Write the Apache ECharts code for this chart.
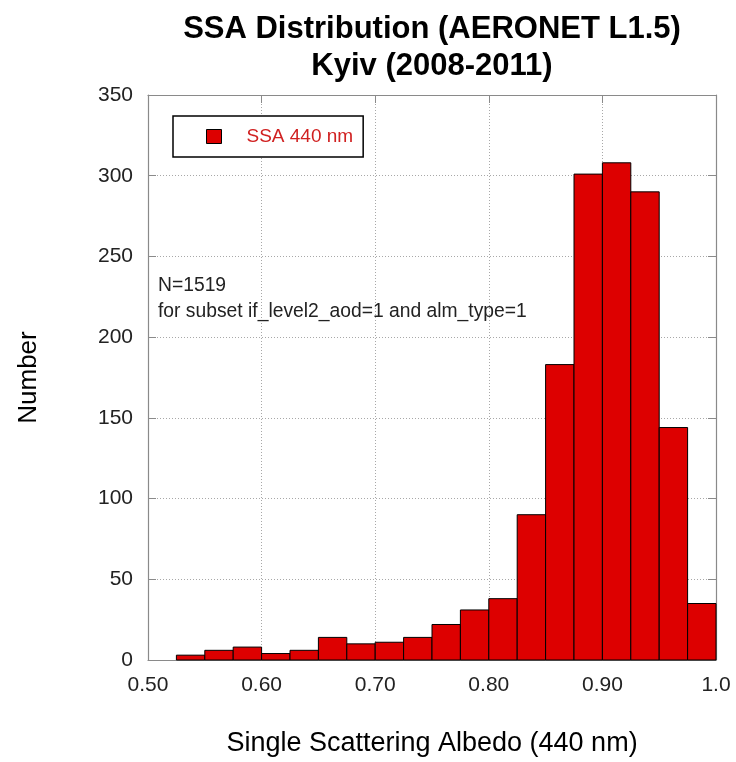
<!DOCTYPE html>
<html>
<head>
<meta charset="utf-8">
<script src="https://cdn.jsdelivr.net/npm/echarts@6/dist/echarts.min.js"></script>
<style>
  html, body { margin: 0; padding: 0; background: #ffffff; overflow: hidden; }
  #chart { width: 736px; height: 762px; }
</style>
</head>
<body>
<div id="chart"></div>
<script>
// ---- data ----
const binEdges = [0.525, 0.55, 0.575, 0.60, 0.625, 0.65, 0.675, 0.70, 0.725, 0.75,
                  0.775, 0.80, 0.825, 0.85, 0.875, 0.90, 0.925, 0.95, 0.975, 1.00];
const counts = [3, 6, 8, 4, 6, 14, 10, 11, 14, 22, 31, 38, 90, 183, 301, 308, 290, 144, 35];
const xTickLabels = ['0.50', '0.60', '0.70', '0.80', '0.90', '1.0'];
const yTicks = [0, 50, 100, 150, 200, 250, 300, 350];
const seriesName = 'SSA 440 nm';
const titleLines = ['SSA Distribution (AERONET L1.5)', 'Kyiv (2008-2011)'];
const noteLines = ['N=1519', 'for subset if_level2_aod=1 and alm_type=1'];
const xName = 'Single Scattering Albedo (440 nm)';
const yName = 'Number';

const histData = counts.map((c, i) => [binEdges[i], binEdges[i + 1], c]);

const FONT = '"Liberation Sans", Arial, sans-serif';
const frameColor = '#8a8a8a';
const gridLineStyle = { color: '#a8a8a8', type: [1, 2], width: 1 };

const chart = echarts.init(document.getElementById('chart'), null, { renderer: 'canvas' });

const xMin = 0.5, xMax = 1.0, xInt = 0.1;
const yMin = yTicks[0], yMax = yTicks[yTicks.length - 1], yInt = yTicks[1] - yTicks[0];

function xLabel(v) {
  const idx = Math.round((v - xMin) / xInt);
  return xTickLabels[idx] !== undefined ? xTickLabels[idx] : '';
}

const option = {
  backgroundColor: '#ffffff',
  animation: false,
  title: {
    text: titleLines.join('\n'),
    left: 432,
    top: 11,
    textAlign: 'center',
    padding: 0,
    textStyle: {
      fontFamily: FONT, fontSize: 31, fontWeight: 'bold', color: '#000', lineHeight: 37
    }
  },
  legend: {
    data: [seriesName],
    left: 173,
    top: 116,
    orient: 'horizontal',
    backgroundColor: '#ffffff',
    borderColor: '#000000',
    borderWidth: 1.5,
    borderRadius: 0,
    padding: [11, 10, 11, 33],
    itemWidth: 15,
    itemHeight: 14,
    icon: 'rect',
    itemStyle: { color: '#dd0000', borderColor: '#000', borderWidth: 1 },
    textStyle: { fontFamily: FONT, fontSize: 19, color: '#d02020', padding: [0, 0, 0, 20] }
  },
  grid: { left: 148, right: 20, top: 95, bottom: 100, containLabel: false },
  xAxis: [
    {
      type: 'value', min: xMin, max: xMax, interval: xInt, position: 'bottom',
      name: xName, nameLocation: 'middle', nameGap: 70,
      nameTextStyle: { fontFamily: FONT, fontSize: 27, color: '#000' },
      axisLine: { show: true, onZero: false, lineStyle: { color: frameColor, width: 1.2 } },
      axisTick: { show: true, inside: true, length: 8, lineStyle: { color: frameColor } },
      axisLabel: { margin: 15, fontFamily: FONT, fontSize: 21, color: '#222', formatter: xLabel },
      splitLine: { show: true, lineStyle: gridLineStyle }
    },
    {
      type: 'value', min: xMin, max: xMax, interval: xInt, position: 'top',
      axisLine: { show: true, onZero: false, lineStyle: { color: frameColor, width: 1.2 } },
      axisTick: { show: true, inside: true, length: 8, lineStyle: { color: frameColor } },
      axisLabel: { show: false },
      splitLine: { show: false }
    }
  ],
  yAxis: [
    {
      type: 'value', min: yMin, max: yMax, interval: yInt, position: 'left',
      name: yName, nameLocation: 'middle', nameGap: 106, nameRotate: 90,
      nameTextStyle: { fontFamily: FONT, fontSize: 26, color: '#000' },
      axisLine: { show: true, onZero: false, lineStyle: { color: frameColor, width: 1.2 } },
      axisTick: { show: true, inside: true, length: 8, lineStyle: { color: frameColor } },
      axisLabel: { margin: 15, fontFamily: FONT, fontSize: 21, color: '#222' },
      splitLine: { show: true, lineStyle: gridLineStyle }
    },
    {
      type: 'value', min: yMin, max: yMax, interval: yInt, position: 'right',
      axisLine: { show: true, onZero: false, lineStyle: { color: frameColor, width: 1.2 } },
      axisTick: { show: true, inside: true, length: 8, lineStyle: { color: frameColor } },
      axisLabel: { show: false },
      splitLine: { show: false }
    }
  ],
  graphic: [
    {
      type: 'text', left: 158, top: 273, z: 10,
      style: {
        text: noteLines.join('\n'), fontFamily: FONT, fontSize: 19.3, lineHeight: 26, fill: '#222'
      }
    }
  ],
  series: [
    {
      name: seriesName,
      type: 'custom',
      xAxisIndex: 0,
      yAxisIndex: 0,
      itemStyle: { color: '#dd0000', borderColor: '#000000', borderWidth: 1 },
      encode: { x: [0, 1], y: 2 },
      renderItem: function (params, api) {
        const x0 = api.value(0), x1 = api.value(1), v = api.value(2);
        const pTop = api.coord([x0, v]);
        const pBase = api.coord([x1, 0]);
        return {
          type: 'rect',
          shape: { x: pTop[0], y: pTop[1], width: pBase[0] - pTop[0], height: pBase[1] - pTop[1] },
          style: { fill: '#dd0000', stroke: '#000000', lineWidth: 1 }
        };
      },
      data: histData,
      z: 3
    }
  ]
};

chart.setOption(option);
</script>
</body>
</html>
